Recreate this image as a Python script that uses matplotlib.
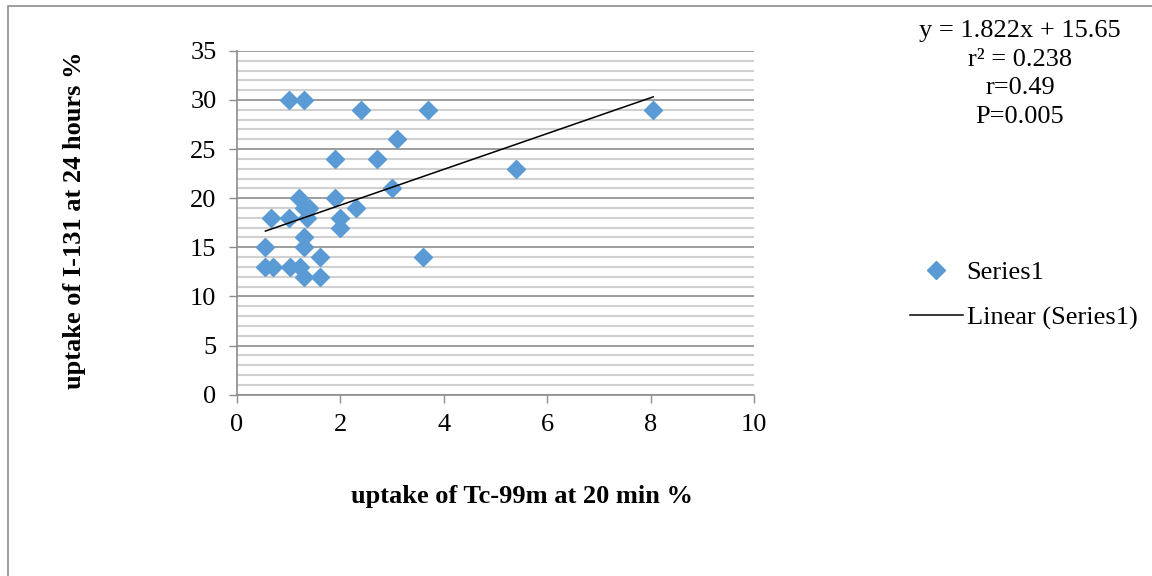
import matplotlib
matplotlib.use("Agg")
import matplotlib.pyplot as plt
from matplotlib.patches import Rectangle
import numpy as np

# Data
tc99m_uptake = [1.0, 1.3, 2.4, 3.7, 8.05, 3.1, 1.9, 2.7, 5.4, 3.0, 1.2, 1.9,
                1.3, 1.4, 2.3, 0.65, 1.0, 1.35, 2.0, 2.0, 1.3, 0.55, 1.3, 1.6,
                3.6, 0.55, 0.7, 1.02, 1.22, 1.3, 1.6]
i131_uptake = [30, 30, 29, 29, 29, 26, 24, 24, 23, 21, 20, 20,
               19, 19, 19, 18, 18, 18, 18, 17, 16, 15, 15, 14,
               14, 13, 13, 13, 13, 12, 12]
trend_slope = 1.822
trend_intercept = 15.65
stats_lines = ["y = 1.822x + 15.65", "r\u00b2 = 0.238", "r=0.49", "P=0.005"]
x_ticks = [0, 2, 4, 6, 8, 10]
y_ticks = [0, 5, 10, 15, 20, 25, 30, 35]

plt.rcParams['font.family'] = ['Liberation Serif', 'DejaVu Serif']

W, H = 1152, 576
fig = plt.figure(figsize=(W / 100, H / 100), dpi=100)

# outer chart border (right and bottom edges fall outside the image)
fig.patches.append(Rectangle((8 / W, -0.5), 1.5, 1.5 - 6 / H, transform=fig.transFigure,
                             fill=False, edgecolor='#8c8c8c', linewidth=1.2))

left, right = 237 / W, 754 / W
bottom, top = 1 - 394.6 / H, 1 - 50.9 / H
ax = fig.add_axes([left, bottom, right - left, top - bottom])

ax.set_xlim(0, 10)
ax.set_ylim(0, 35)
ax.set_xticks(x_ticks)
ax.set_yticks(y_ticks)
ax.set_yticks(np.arange(0, 36, 1), minor=True)
ax.tick_params(axis='both', which='major', labelsize=19, colors='#8c8c8c',
               labelcolor='black', length=5.8, width=1, direction='out')
ax.tick_params(axis='x', which='major', pad=8)
ax.tick_params(axis='y', which='major', pad=9)
ax.tick_params(axis='y', which='minor', length=0)
ax.grid(True, which='minor', axis='y', color='#d0d0d0', linewidth=1.5, zorder=0)
ax.grid(True, which='major', axis='y', color='#8c8c8c', linewidth=1.2, zorder=0)
ax.set_axisbelow(True)
for s in ['top', 'right']:
    ax.spines[s].set_visible(False)
for s in ['left', 'bottom']:
    ax.spines[s].set_color('#8c8c8c')
    ax.spines[s].set_linewidth(1.2)

ax.plot(tc99m_uptake, i131_uptake, linestyle='none', marker='D', markersize=9.5,
        color='#5b9bd5', label='Series1', zorder=3)
xl = np.array([min(tc99m_uptake), max(tc99m_uptake)])
ax.plot(xl, trend_slope * xl + trend_intercept, color='black', linewidth=1.1,
        label='Linear (Series1)', zorder=4)

fig.text(522 / W, 1 - 497 / H, 'uptake of Tc-99m at 20 min %', ha='center', va='center',
         fontsize=19, fontweight='bold')
fig.text(75 / W, 1 - 220 / H, 'uptake of I-131 at 24 hours %', ha='center', va='center',
         rotation=90, fontsize=19, fontweight='bold')

fig.text(1020 / W, 1 - 74 / H, "\n".join(stats_lines), ha='center', va='center',
         fontsize=19, linespacing=1.41)

leg = fig.legend(loc='upper left', bbox_to_anchor=(910 / W, 1 - 261 / H), frameon=False,
                 fontsize=19, handlelength=2.0, handletextpad=0.15, labelspacing=0.82,
                 borderaxespad=0, borderpad=0)

fig.savefig('out.png', dpi=100)
